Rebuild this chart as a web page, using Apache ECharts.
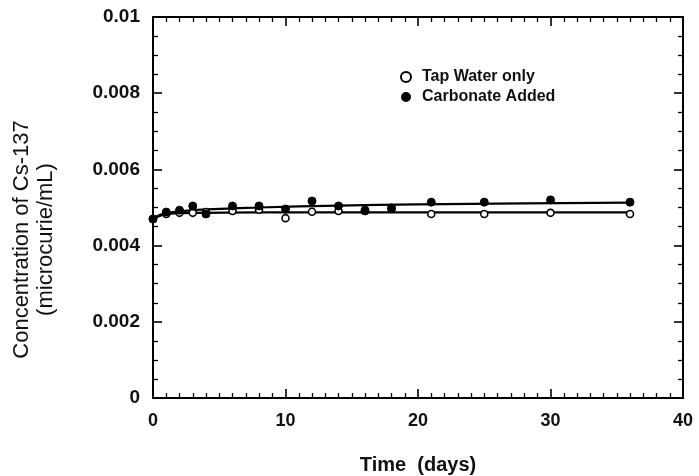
<!DOCTYPE html>
<html>
<head>
<meta charset="utf-8">
<script src="https://cdn.jsdelivr.net/npm/echarts@6/dist/echarts.min.js"></script>
<style>
  html, body { margin: 0; padding: 0; background: #fff; }
  #chart { width: 699px; height: 476px; }
</style>
</head>
<body>
<div id="chart"></div>
<script>
// sampling days
let days = [0, 1, 2, 3, 4, 6, 8, 10, 12, 14, 16, 18, 21, 25, 30, 36]
// measured values (microcurie/mL)
let tapWater = [0.0047, 0.00483, 0.00486, 0.00486, 0.00488, 0.00491, 0.00494, 0.00472, 0.00489, 0.00491, 0.00494, 0.00496, 0.00483, 0.00483, 0.00486, 0.00483]
let carbonate = [0.0047, 0.00488, 0.00493, 0.00504, 0.00483, 0.00504, 0.00504, 0.00496, 0.00517, 0.00504, 0.00491, 0.00499, 0.00514, 0.00514, 0.0052, 0.00514]
// fitted curves
let curveDays = [0, 0.5, 1, 2, 4, 8, 14, 20, 28, 36]
let tapCurve = [0.0047, 0.00478, 0.00482, 0.00485, 0.00486, 0.00487, 0.00487, 0.00487, 0.00487, 0.00487]
let carbCurve = [0.0047, 0.0048, 0.00485, 0.0049, 0.00495, 0.005, 0.00505, 0.00508, 0.00511, 0.00513]
let yTicks = [0, 0.002, 0.004, 0.006, 0.008, 0.01]

function pairs(xs, ys) {
  let out = []
  for (let i = 0; i < xs.length; i++) out.push([xs[i], ys[i]])
  return out
}

let chart = echarts.init(document.getElementById('chart'))
let font = 'Liberation Sans, Arial, sans-serif'
let tickStyle = { inside: true, length: 9, lineStyle: { color: '#000', width: 1.6 } }
let minorStyle = { show: true, length: 5, lineStyle: { color: '#000', width: 1.3 } }
let lineStyle = { onZero: false, lineStyle: { color: '#000', width: 2 } }

let option = {
  animation: false,
  backgroundColor: '#fff',
  grid: { left: 153, right: 16, top: 17, bottom: 78, outerBoundsMode: 'none', containLabel: false },
  legend: {
    orient: 'vertical',
    left: 395,
    top: 64,
    itemGap: 4,
    itemWidth: 10,
    itemHeight: 10,
    data: ['Tap Water only', 'Carbonate Added'],
    textStyle: { fontFamily: font, fontSize: 16, fontWeight: 'bold', color: '#111', padding: [0, 0, 0, 6] }
  },
  xAxis: [{
    type: 'value', min: 0, max: 40, interval: 10,
    name: 'Time  (days)', nameLocation: 'middle', nameGap: 57,
    nameTextStyle: { fontFamily: font, fontSize: 20, fontWeight: 'bold', color: '#111' },
    axisLine: lineStyle,
    axisTick: tickStyle,
    minorTick: Object.assign({ splitNumber: 10 }, minorStyle),
    splitLine: { show: false },
    axisLabel: { fontFamily: font, fontSize: 18, fontWeight: 'bold', color: '#111', margin: 14 }
  }, {
    type: 'value', min: 0, max: 40, interval: 10, position: 'top',
    axisLine: lineStyle,
    axisTick: tickStyle,
    minorTick: Object.assign({ splitNumber: 10 }, minorStyle),
    splitLine: { show: false },
    axisLabel: { show: false }
  }],
  yAxis: [{
    type: 'value', min: 0, max: 0.01, interval: 0.002,
    name: 'Concentration of Cs-137\n(microcurie/mL)', nameLocation: 'middle', nameGap: 95,
    nameTextStyle: { fontFamily: font, fontSize: 22, color: '#111', lineHeight: 24, padding: [0, 64, 0, 0] },
    axisLine: lineStyle,
    axisTick: tickStyle,
    minorTick: Object.assign({ splitNumber: 4 }, minorStyle),
    splitLine: { show: false },
    axisLabel: {
      fontFamily: font, fontSize: 19, fontWeight: 'bold', color: '#111', margin: 13,
      formatter: function(v) {
        let best = yTicks.reduce((a, b) => Math.abs(b - v) < Math.abs(a - v) ? b : a)
        return String(best)
      }
    }
  }, {
    type: 'value', min: 0, max: 0.01, interval: 0.002, position: 'right',
    axisLine: lineStyle,
    axisTick: tickStyle,
    minorTick: Object.assign({ splitNumber: 4 }, minorStyle),
    splitLine: { show: false },
    axisLabel: { show: false }
  }],
  series: [
    {
      name: 'tap fit', type: 'line', smooth: true, symbol: 'none',
      data: pairs(curveDays, tapCurve),
      lineStyle: { color: '#000', width: 2.2 }, z: 2
    },
    {
      name: 'carb fit', type: 'line', smooth: true, symbol: 'none',
      data: pairs(curveDays, carbCurve),
      lineStyle: { color: '#000', width: 2.2 }, z: 2
    },
    {
      name: 'Tap Water only', type: 'scatter', symbol: 'circle', symbolSize: 7,
      data: pairs(days, tapWater),
      itemStyle: { color: '#fff', borderColor: '#000', borderWidth: 1.6, opacity: 1 }, z: 3
    },
    {
      name: 'Carbonate Added', type: 'scatter', symbol: 'circle', symbolSize: 8,
      data: pairs(days, carbonate),
      itemStyle: { color: '#000', borderColor: '#000', opacity: 1 }, z: 4
    }
  ]
}

chart.setOption(option)
</script>
</body>
</html>
